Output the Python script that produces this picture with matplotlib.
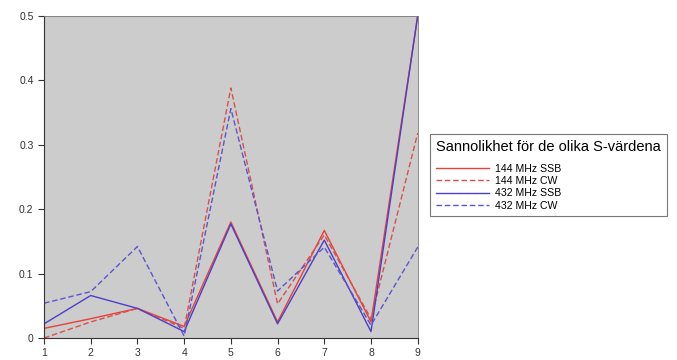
import matplotlib
matplotlib.use("Agg")
import matplotlib.pyplot as plt

x = [1, 2, 3, 4, 5, 6, 7, 8, 9]
ssb144 = [0.015, 0.030, 0.046, 0.018, 0.180, 0.025, 0.167, 0.025, 0.500]
cw144 = [0.000, 0.025, 0.046, 0.015, 0.388, 0.053, 0.160, 0.030, 0.318]
ssb432 = [0.022, 0.066, 0.046, 0.010, 0.177, 0.022, 0.152, 0.010, 0.500]
cw432 = [0.054, 0.072, 0.142, 0.003, 0.356, 0.073, 0.141, 0.020, 0.141]

plt.rcParams['font.family'] = ['Liberation Sans', 'DejaVu Sans']

fig = plt.figure(figsize=(6.77, 3.6), dpi=100)
ax = fig.add_axes([0.065, 0.061, 0.552, 0.895])
ax.set_facecolor('#cccccc')

ax.plot(x, ssb144, color='#e8403a', lw=1.0, label='144 MHz SSB')
ax.plot(x, cw144, color='#d9504a', lw=1.0, ls=(0, (4, 2)), label='144 MHz CW')
ax.plot(x, ssb432, color='#4a40c8', lw=1.0, label='432 MHz SSB')
ax.plot(x, cw432, color='#5a55d0', lw=1.0, ls=(0, (4, 2)), label='432 MHz CW')

ax.set_xlim(1, 9)
ax.set_ylim(0, 0.5)
ax.set_xticks(x)
ax.set_yticks([0, 0.1, 0.2, 0.3, 0.4, 0.5])
ax.set_yticklabels(['0', '0.1', '0.2', '0.3', '0.4', '0.5'])
ax.tick_params(labelsize=7.5, length=4, width=0.8, direction='out', colors='#333333')
for s in ['left', 'bottom']:
    ax.spines[s].set_color('#333333')
for s in ['top', 'right']:
    ax.spines[s].set_color('#777777')
    ax.spines[s].set_linewidth(0.6)

leg = ax.legend(title='Sannolikhet för de olika S-värdena', loc='center left',
                bbox_to_anchor=(1.02, 0.505), fontsize=7.6, title_fontsize=10.5,
                frameon=True, fancybox=False, edgecolor='#555555',
                handlelength=5, handletextpad=0.6, labelspacing=0.22,
                borderpad=0.55)
leg.get_frame().set_linewidth(0.8)
leg._legend_box.align = 'left'
leg._legend_box.sep = 7

fig.savefig('out.png', dpi=100)
